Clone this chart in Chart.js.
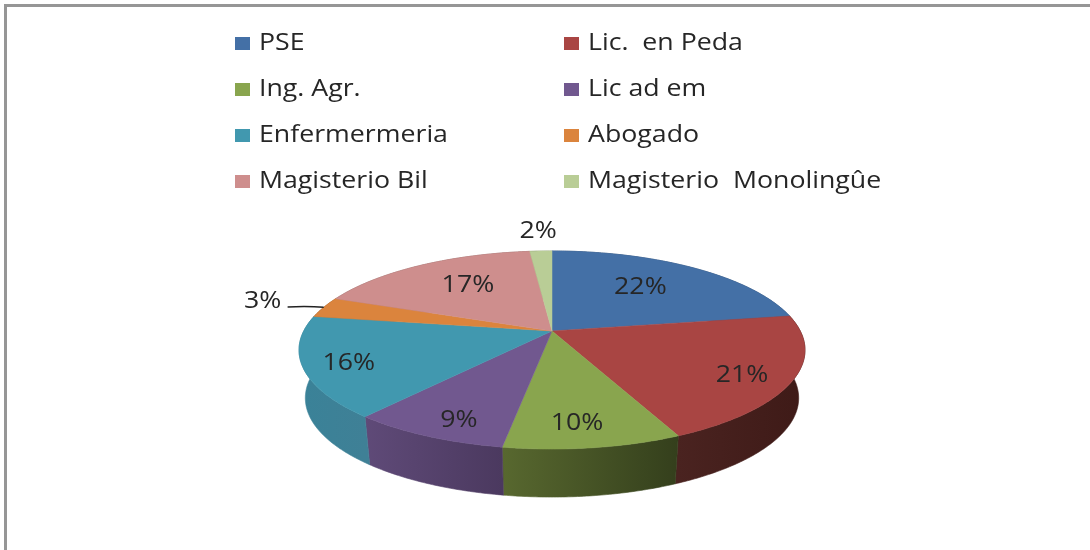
<!DOCTYPE html>
<html>
<head>
<meta charset="utf-8">
<script src="https://cdn.jsdelivr.net/npm/chart.js@4/dist/chart.umd.min.js"></script>
<style>
html,body{margin:0;padding:0;background:#fff;overflow:hidden}
#wrap{width:1090px;height:550px;position:relative}
canvas{display:block;filter:blur(0.45px)}
</style>
</head>
<body>
<div id="wrap"><canvas id="c" width="1090" height="550"></canvas></div>
<script>
const categories = ['PSE','Lic.  en Peda','Ing. Agr.','Lic ad em','Enfermermeria','Abogado','Magisterio Bil','Magisterio  Monolingûe'];
const shares = [22.4,20.7,9.5,8.5,16.4,3.4,17.4,1.7];
const shareLabels = ['22%','21%','10%','9%','16%','3%','17%','2%'];
const topColors = ['#4470a6','#a94543','#89a54e','#71588f','#4198af','#db843d','#ce8e8d','#b9cd96'];
const sideStart = ['#2d4a6e','#4a2320','#58682f','#5f4a78','#3a8298','#8f5628','#8a5f5e','#7b8964'];
const sideEnd = ['#2d4a6e','#3e1a17','#343f1c','#4b395f','#3f8096','#8f5628','#8a5f5e','#7b8964'];
const labelRadius = [.64,.82,.82,.85,.83,1.285,.65,1.31];
const labelTurn = [-2.7,3,1.8,-2.7,-1.5,0,2.4,0];

const FONT = '"Open Sans", sans-serif';
const CX = 552, CY = 331, SX = 248.3, SY = 95.4, K = -0.192, DEPTH = 48, SHRINK = 0.975;
function project(angle, r){
  const u = Math.cos(angle)*r, v = Math.sin(angle)*r, d = 1 + K*v;
  return {x: CX + SX*u/d, y: CY + SY*v/d};
}
function lower(p){ return {x: CX + (p.x-CX)*SHRINK, y: p.y + DEPTH}; }
function rim(a0, a1){
  const n = Math.max(2, Math.ceil((a1-a0)/0.01)), pts = [];
  for(let i=0;i<=n;i++) pts.push(project(a0+(a1-a0)*i/n, 1));
  return pts;
}
function text(ctx, s, x, y, align){
  ctx.save();
  ctx.font = '24.5px ' + FONT;
  ctx.fillStyle = '#262626';
  ctx.textBaseline = 'middle';
  ctx.textAlign = align;
  ctx.translate(x, y);
  ctx.scale(1.09, 1);
  ctx.fillText(s, 0, 0);
  ctx.restore();
}
const pie3d = {
  id: 'pie3d',
  beforeDatasetsDraw(chart){
    const ctx = chart.ctx, arcs = chart.getDatasetMeta(0).data;
    ctx.save();
    // frame
    ctx.fillStyle = '#969696';
    ctx.fillRect(4, 4, 1086, 3);
    ctx.fillRect(4, 4, 3, 546);
    // side walls
    arcs.forEach((arc,i)=>{
      const pts = rim(arc.startAngle, arc.endAngle);
      const low = pts.map(lower).reverse();
      const xs = pts.map(p=>p.x);
      const g = ctx.createLinearGradient(Math.min(...xs),0,Math.max(...xs)+.01,0);
      g.addColorStop(0, sideStart[i]); g.addColorStop(1, sideEnd[i]);
      ctx.fillStyle = g; ctx.strokeStyle = g; ctx.lineWidth = .6;
      ctx.beginPath();
      pts.concat(low).forEach((p,j)=> j? ctx.lineTo(p.x,p.y):ctx.moveTo(p.x,p.y));
      ctx.closePath(); ctx.fill(); ctx.stroke();
    });
    // top face
    arcs.forEach((arc,i)=>{
      const pts = rim(arc.startAngle, arc.endAngle);
      ctx.fillStyle = topColors[i]; ctx.strokeStyle = topColors[i]; ctx.lineWidth = .5;
      ctx.beginPath(); ctx.moveTo(CX,CY);
      pts.forEach(p=>ctx.lineTo(p.x,p.y));
      ctx.closePath(); ctx.fill(); ctx.stroke();
    });
    // percent labels
    arcs.forEach((arc,i)=>{
      const mid = (arc.startAngle+arc.endAngle)/2;
      const p = project(mid + labelTurn[i]*Math.PI/180, labelRadius[i]);
      text(ctx, shareLabels[i], p.x, p.y, 'center');
      if(labelRadius[i] > 1 && labelRadius[i] < 1.3){
        const e = project(mid, 1);
        ctx.strokeStyle = '#222'; ctx.lineWidth = 1.4;
        ctx.beginPath(); ctx.moveTo(p.x+25, p.y+6);
        ctx.quadraticCurveTo(e.x-16, p.y+5, e.x, e.y);
        ctx.stroke();
      }
    });
    // legend
    categories.forEach((name,i)=>{
      const col = i%2, row = (i-col)/2;
      const mx = col ? 564 : 235, ty = 43 + row*46;
      ctx.fillStyle = topColors[i];
      ctx.fillRect(mx, ty-6, 15, 13);
      text(ctx, name, mx+24, ty, 'left');
    });
    ctx.restore();
    return false;
  }
};
new Chart(document.getElementById('c'), {
  type: 'pie',
  data: { labels: categories, datasets: [{ data: shares, backgroundColor: topColors, borderWidth: 0 }] },
  options: {
    responsive: false, animation: false,
    plugins: { legend: { display: false }, tooltip: { enabled: false } }
  },
  plugins: [pie3d]
});
</script>
</body>
</html>
